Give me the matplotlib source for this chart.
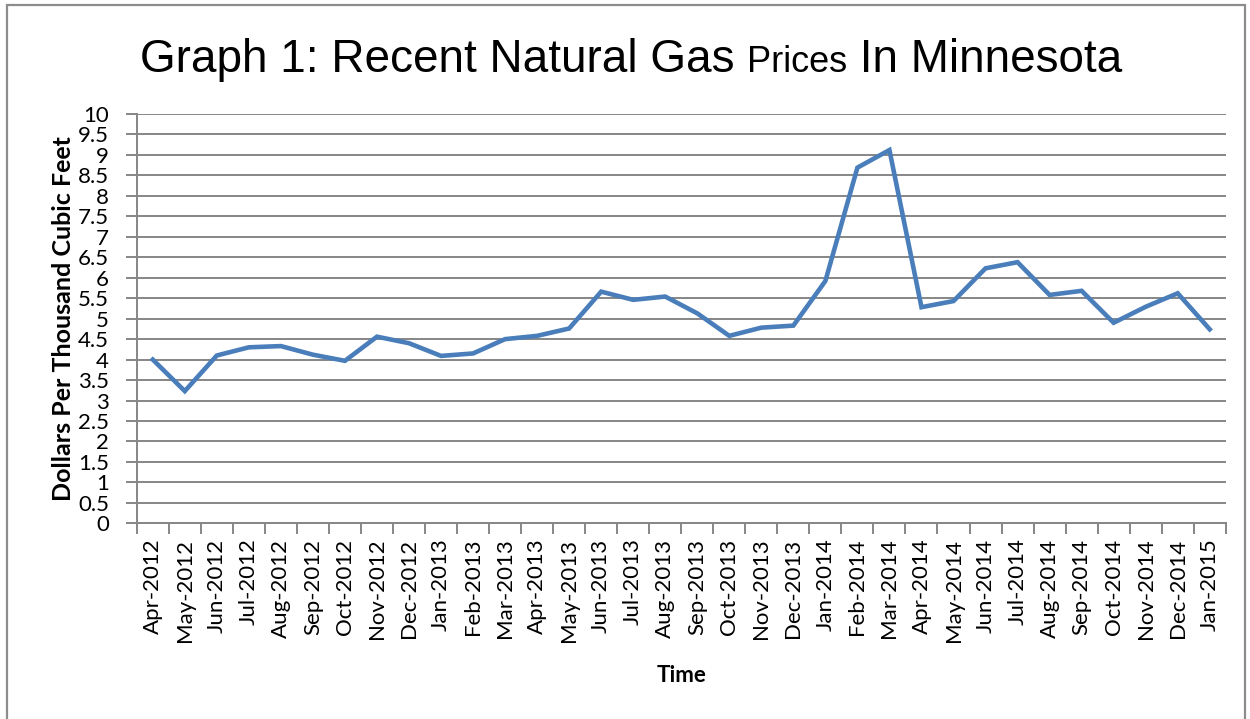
import matplotlib
matplotlib.use("Agg")
import matplotlib.pyplot as plt
from matplotlib.patches import Rectangle
from matplotlib.ticker import MultipleLocator, FixedLocator
import numpy as np

# data
months = ["Apr-2012", "May-2012", "Jun-2012", "Jul-2012", "Aug-2012", "Sep-2012",
          "Oct-2012", "Nov-2012", "Dec-2012", "Jan-2013", "Feb-2013", "Mar-2013",
          "Apr-2013", "May-2013", "Jun-2013", "Jul-2013", "Aug-2013", "Sep-2013",
          "Oct-2013", "Nov-2013", "Dec-2013", "Jan-2014", "Feb-2014", "Mar-2014",
          "Apr-2014", "May-2014", "Jun-2014", "Jul-2014", "Aug-2014", "Sep-2014",
          "Oct-2014", "Nov-2014", "Dec-2014", "Jan-2015"]
prices = [4.00, 3.23, 4.10, 4.30, 4.33, 4.12, 3.97, 4.56, 4.40, 4.09, 4.15, 4.50,
          4.58, 4.76, 5.66, 5.46, 5.54, 5.13, 4.58, 4.78, 4.83, 5.92, 8.69, 9.12,
          5.28, 5.43, 6.23, 6.38, 5.58, 5.68, 4.90, 5.29, 5.62, 4.74]

title_parts = [("Graph 1: Recent Natural Gas ", 33), ("Prices", 26), (" In Minnesota", 33)]

grid_col = "#868686"
line_col = "#4A7EBB"
body_font = ["Lato", "DejaVu Sans"]
title_font = ["Liberation Sans", "DejaVu Sans"]

fig = plt.figure(figsize=(12.5, 7.19), dpi=100)
ax = fig.add_axes([0.1094, 0.2722, 0.8712, 0.5692])

x = np.arange(len(months))
ax.plot(x, prices, color=line_col, lw=3.3, solid_joinstyle="miter", zorder=3)

ax.set_xlim(-0.5, len(months) - 0.5)
ax.set_ylim(0, 10)
ax.yaxis.set_major_locator(MultipleLocator(0.5))
ax.set_yticklabels([f"{v:g}" for v in ax.get_yticks()], family=body_font, fontsize=16)
ax.grid(axis="y", color=grid_col, lw=1.4)
ax.set_axisbelow(True)

ax.set_xticks(x)
ax.set_xticklabels(months, rotation=90, family=body_font, fontsize=16)
ax.xaxis.set_minor_locator(FixedLocator(np.arange(-0.5, len(months), 1.0)))
ax.tick_params(axis="x", which="major", length=0, pad=11)
ax.tick_params(axis="x", which="minor", length=8, color=grid_col, width=1.4)
ax.tick_params(axis="y", length=8, color=grid_col, width=1.4, pad=12)

for side in ["top", "right"]:
    ax.spines[side].set_visible(False)
for side in ["left", "bottom"]:
    ax.spines[side].set_color(grid_col)
    ax.spines[side].set_linewidth(1.4)

ax.set_ylabel("Dollars Per Thousand Cubic Feet", family=body_font, fontsize=18,
              weight="bold", labelpad=2)
fig.text(0.545, 0.061, "Time", family=body_font, fontsize=16, weight="bold",
         ha="center", va="center")

# title with a smaller middle word, pieces laid out side by side
renderer = fig.canvas.get_renderer()
pieces = []
for txt, size in title_parts:
    t = fig.text(0, 0.9, txt, family=title_font, fontsize=size, va="baseline", ha="left")
    pieces.append(t)
widths = [p.get_window_extent(renderer).width / fig.bbox.width for p in pieces]
start = 0.505 - sum(widths) / 2
for p, w in zip(pieces, widths):
    p.set_x(start)
    start += w

# outer chart border
fig.patches.append(Rectangle((7 / 1250, -0.05), 1238 / 1250, 1.05 - 5 / 719,
                             transform=fig.transFigure, fill=False,
                             edgecolor="#8c8c8c", lw=1.6))

fig.savefig("out.png", dpi=100)
